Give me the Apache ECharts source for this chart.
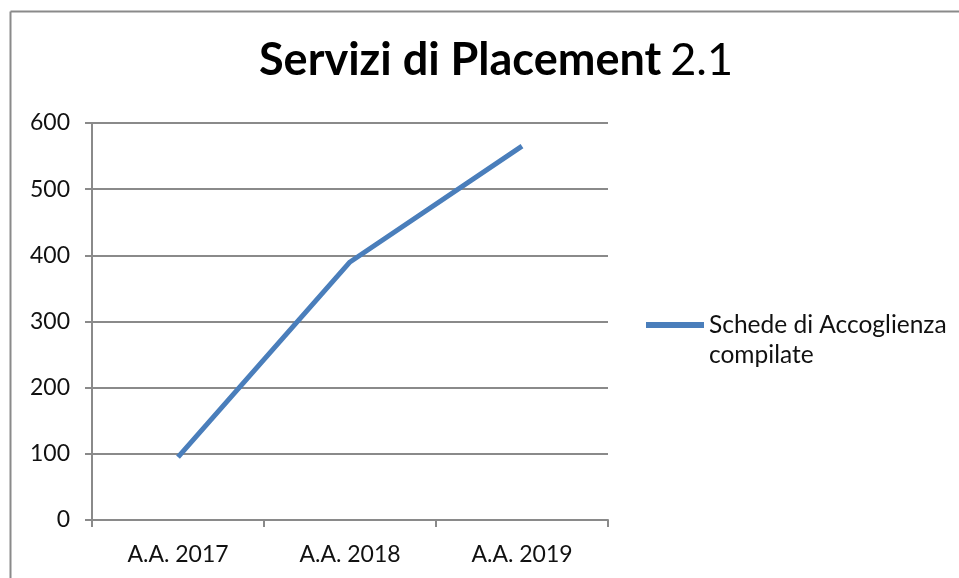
<!DOCTYPE html>
<html><head><meta charset="utf-8">
<script src="https://cdn.jsdelivr.net/npm/echarts@6/dist/echarts.min.js"></script>
<style>html,body{margin:0;padding:0;background:#fff}#c{width:959px;height:578px}</style>
</head><body><div id="c"></div>
<script>
const categories = ['A.A. 2017', 'A.A. 2018', 'A.A. 2019'];
const seriesName = 'Schede di Accoglienza compilate';
const values = [95, 390, 565];
const yTicks = [0, 100, 200, 300, 400, 500, 600];

const chart = echarts.init(document.getElementById('c'));
const F = 'Lato';
chart.setOption({
  animation: false,
  backgroundColor: '#fff',
  title: {
    text: '{b|Servizi di Placement}{n|2.1}',
    left: 254, top: 33,
    textStyle: {
      rich: {
        b: { fontFamily: F, fontWeight: 'bold', fontSize: 45, color: '#000' },
        n: { fontFamily: F, fontWeight: 'normal', fontSize: 45, color: '#000', padding: [0, 0, 0, 9] }
      }
    }
  },
  graphic: [
    { type: 'line', shape: { x1: 10.5, y1: 11.5, x2: 959, y2: 11.5 }, style: { stroke: '#8a8a8a', lineWidth: 2 }, silent: true },
    { type: 'line', shape: { x1: 10.5, y1: 11.5, x2: 10.5, y2: 578 }, style: { stroke: '#8a8a8a', lineWidth: 2 }, silent: true }
  ],
  legend: {
    left: 641, top: 275, orient: 'vertical',
    itemWidth: 58, itemHeight: 6, itemGap: 0,
    icon: 'path://M0,0 L58,0 L58,6 L0,6 Z',
    formatter: () => ' \nSchede di Accoglienza\ncompilate',
    textStyle: { fontFamily: F, fontSize: 24.5, color: '#111', lineHeight: 30 },
    data: [seriesName]
  },
  grid: { left: 92, right: 351, top: 123, bottom: 58, containLabel: false },
  xAxis: {
    type: 'category', data: categories, boundaryGap: true,
    axisLine: { lineStyle: { color: '#8a8a8a', width: 2 } },
    axisTick: { show: true, alignWithLabel: false, length: 7, lineStyle: { color: '#8a8a8a', width: 2 } },
    axisLabel: { fontFamily: F, fontSize: 23, color: '#111', margin: 23 }
  },
  yAxis: {
    type: 'value', min: yTicks[0], max: yTicks[yTicks.length - 1], interval: 100,
    axisLine: { show: true, lineStyle: { color: '#8a8a8a', width: 2 } },
    axisTick: { show: true, length: 7, lineStyle: { color: '#8a8a8a', width: 2 } },
    splitLine: { lineStyle: { color: '#8a8a8a', width: 2 } },
    axisLabel: { fontFamily: F, fontSize: 23, color: '#111', margin: 22 }
  },
  series: [{
    name: seriesName, type: 'line', data: values,
    symbol: 'none', lineStyle: { color: '#4a7ebb', width: 5 },
    itemStyle: { color: '#4a7ebb' }
  }]
});
</script></body></html>
